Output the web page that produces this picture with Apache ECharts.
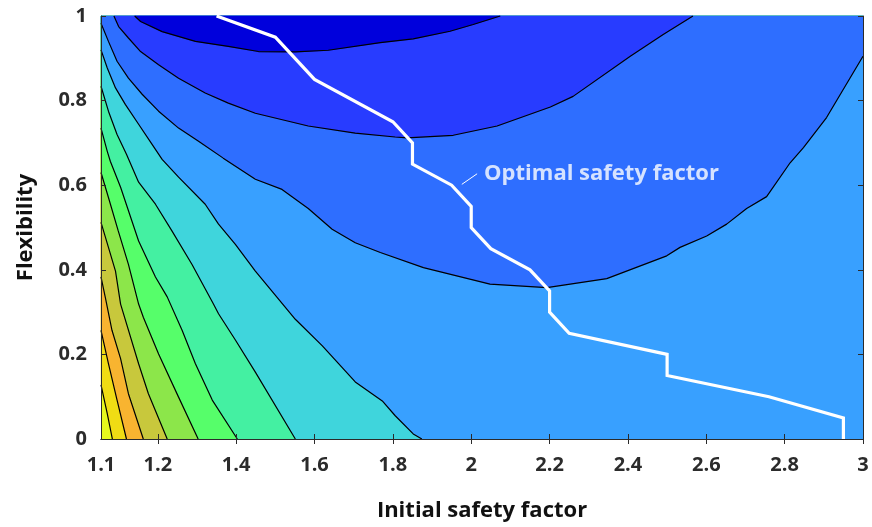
<!DOCTYPE html>
<html>
<head>
<meta charset="utf-8">
<script src="https://cdn.jsdelivr.net/npm/echarts@6/dist/echarts.min.js"></script>
<style>
  html, body { margin: 0; padding: 0; background: #fff; }
  #chart { width: 872px; height: 527px; }
</style>
</head>
<body>
<div id="chart"></div>
<script>
// axis range and ticks
const xMin = 1.055, xMax = 3, yMin = 0, yMax = 1;
const xTickValues = [1.2, 1.4, 1.6, 1.8, 2, 2.2, 2.4, 2.6, 2.8, 3];
const xLabelValues = [1.055, 1.2, 1.4, 1.6, 1.8, 2, 2.2, 2.4, 2.6, 2.8, 3];
const xLabelText = ['1.1', '1.2', '1.4', '1.6', '1.8', '2', '2.2', '2.4', '2.6', '2.8', '3'];

// contour lines, [initial safety factor, flexibility], lowest level first
const contour1 = [[1.141, 1], [1.156, 0.987], [1.211, 0.963], [1.296, 0.940], [1.380, 0.928], [1.457, 0.916], [1.551, 0.915], [1.635, 0.919], [1.768, 0.937], [1.852, 0.946], [1.946, 0.964], [2.005, 0.980], [2.074, 1]];
const contour2 = [[1.088, 1], [1.100, 0.975], [1.125, 0.948], [1.156, 0.916], [1.202, 0.885], [1.253, 0.853], [1.321, 0.818], [1.380, 0.794], [1.449, 0.770], [1.584, 0.740], [1.704, 0.723], [1.806, 0.714], [1.836, 0.712], [1.954, 0.718], [2.066, 0.740], [2.202, 0.785], [2.260, 0.810], [2.406, 0.905], [2.490, 0.956], [2.566, 1]];
const contour3 = [[1.055, 0.983], [1.074, 0.940], [1.096, 0.893], [1.125, 0.853], [1.160, 0.815], [1.202, 0.775], [1.253, 0.735], [1.304, 0.704], [1.367, 0.664], [1.449, 0.614], [1.517, 0.590], [1.584, 0.545], [1.645, 0.496], [1.704, 0.464], [1.768, 0.441], [1.878, 0.405], [2.048, 0.366], [2.193, 0.358], [2.346, 0.379], [2.499, 0.433], [2.533, 0.453], [2.601, 0.480], [2.652, 0.508], [2.703, 0.545], [2.754, 0.573], [2.814, 0.653], [2.848, 0.689], [2.907, 0.760], [3, 0.905]];
const contour4 = [[1.055, 0.920], [1.071, 0.877], [1.092, 0.830], [1.117, 0.791], [1.151, 0.744], [1.185, 0.697], [1.211, 0.661], [1.253, 0.619], [1.321, 0.555], [1.355, 0.508], [1.398, 0.460], [1.449, 0.397], [1.551, 0.283], [1.620, 0.220], [1.704, 0.135], [1.773, 0.090], [1.806, 0.055], [1.852, 0.012], [1.874, 0]];
const contour5 = [[1.055, 0.834], [1.074, 0.775], [1.096, 0.720], [1.120, 0.673], [1.151, 0.607], [1.194, 0.555], [1.236, 0.492], [1.287, 0.413], [1.342, 0.319], [1.355, 0.296], [1.398, 0.234], [1.449, 0.158], [1.551, 0]];
const contour6 = [[1.055, 0.735], [1.071, 0.680], [1.079, 0.656], [1.105, 0.595], [1.151, 0.468], [1.194, 0.383], [1.224, 0.336], [1.262, 0.257], [1.296, 0.178], [1.339, 0.092], [1.403, 0]];
const contour7 = [[1.055, 0.630], [1.074, 0.571], [1.099, 0.492], [1.125, 0.413], [1.151, 0.319], [1.163, 0.288], [1.202, 0.201], [1.253, 0.099], [1.303, 0]];
const contour8 = [[1.055, 0.512], [1.074, 0.453], [1.092, 0.397], [1.105, 0.319], [1.151, 0.178], [1.176, 0.107], [1.224, 0]];
const contour9 = [[1.055, 0.383], [1.066, 0.335], [1.083, 0.257], [1.105, 0.190], [1.125, 0.107], [1.163, 0]];
const contour10 = [[1.055, 0.257], [1.074, 0.178], [1.096, 0.092], [1.120, 0]];
const contour11 = [[1.055, 0.128], [1.071, 0.060], [1.084, 0]];

// band colours: [0] is above the highest contour, [11] inside contour1
const bandColors = ['#e6f81e', '#f0dc14', '#f8b430', '#c8c83c', '#8ce64a', '#56fe6a',
  '#44f0a2', '#3fd5dc', '#38a0ff', '#2e6eff', '#283cff', '#0000dc'];

// optimal safety factor path
const optimalX = [1.35, 1.5, 1.6, 1.8, 1.85, 1.85, 1.95, 2.0, 2.0, 2.05, 2.15, 2.2, 2.2, 2.25, 2.5, 2.5, 2.76, 2.95, 2.95];
const optimalY = [1, 0.95, 0.85, 0.75, 0.7, 0.65, 0.6, 0.55, 0.5, 0.45, 0.4, 0.35, 0.3, 0.25, 0.2, 0.15, 0.1, 0.05, 0];
const leaderLine = [[1.976, 0.602], [2.015, 0.627]];
const annotationText = 'Optimal safety factor';

const contours = [contour11, contour10, contour9, contour8, contour7, contour6,
  contour5, contour4, contour3, contour2, contour1];

const font = '"Open Sans", "DejaVu Sans", sans-serif';
const ink = '#2b2b2b';

// position along the plot border, counter-clockwise from the bottom-left corner
function perimeterPos(p) {
  const eps = 1e-9;
  if (Math.abs(p[1] - yMin) < eps) return (p[0] - xMin) / (xMax - xMin);
  if (Math.abs(p[0] - xMax) < eps) return 1 + (p[1] - yMin) / (yMax - yMin);
  if (Math.abs(p[1] - yMax) < eps) return 2 + (xMax - p[0]) / (xMax - xMin);
  return 3 + (yMax - p[1]) / (yMax - yMin);
}
const corners = [[xMin, yMin], [xMax, yMin], [xMax, yMax], [xMin, yMax]];

// region on the low-value side of a contour, closed along the border
function lowRegion(line) {
  const ts = perimeterPos(line[0]);
  const te = perimeterPos(line[line.length - 1]);
  const target = ts < te ? ts + 4 : ts;
  const pts = line.slice();
  for (let k = Math.floor(te) + 1; k < target; k++) pts.push(corners[k % 4]);
  return pts;
}

const chart = echarts.init(document.getElementById('chart'));

const series = [{
  type: 'custom',
  silent: true,
  data: contours.map((c, i) => [i]),
  renderItem: function (params, api) {
    const pts = lowRegion(contours[params.dataIndex]).map(p => api.coord(p));
    return {
      type: 'polygon',
      shape: { points: pts },
      style: { fill: bandColors[params.dataIndex + 1], stroke: bandColors[params.dataIndex + 1], lineWidth: 0.5 }
    };
  }
}];

contours.forEach(c => {
  series.push({
    type: 'line',
    data: c,
    showSymbol: false,
    silent: true,
    lineStyle: { color: '#000', width: 1.2 }
  });
});

series.push({
  type: 'line',
  data: optimalX.map((x, i) => [x, optimalY[i]]),
  showSymbol: false,
  silent: true,
  lineStyle: { color: '#fff', width: 3.2, join: 'miter' }
});

series.push({
  type: 'line',
  data: leaderLine,
  showSymbol: false,
  silent: true,
  lineStyle: { color: '#fff', width: 1 }
});

series.push({
  type: 'scatter',
  data: [leaderLine[1]],
  symbolSize: 0,
  silent: true,
  label: {
    show: true,
    position: 'right',
    distance: 7,
    formatter: annotationText,
    color: '#fff',
    fontFamily: font,
    fontWeight: 'bold',
    fontSize: 22
  }
});

const tickStyle = { show: true, inside: true, length: 5, lineStyle: { color: ink, width: 1 } };
const lineStyle = { show: true, lineStyle: { color: ink, width: 1 } };
const labelStyle = { color: ink, fontFamily: font, fontWeight: 'bold', fontSize: 20 };
const nameStyle = { color: '#111', fontFamily: font, fontWeight: 'bold', fontSize: 22 };

chart.setOption({
  animation: false,
  grid: { left: 101, right: 9, top: 16, bottom: 87, show: true, backgroundColor: bandColors[0], borderWidth: 0 },
  xAxis: [{
    type: 'value', min: xMin, max: xMax, position: 'bottom', z: 10,
    name: 'Initial safety factor', nameLocation: 'middle', nameGap: 61, nameTextStyle: nameStyle,
    axisLine: lineStyle,
    axisTick: Object.assign({}, tickStyle, { customValues: xTickValues }),
    axisLabel: Object.assign({}, labelStyle, {
      margin: 16,
      customValues: xLabelValues,
      formatter: v => {
        const i = xLabelValues.findIndex(t => Math.abs(t - v) < 1e-6);
        return i >= 0 ? xLabelText[i] : '';
      }
    }),
    splitLine: { show: false }
  }, {
    type: 'value', min: xMin, max: xMax, position: 'top', z: 10,
    axisLine: lineStyle,
    axisTick: Object.assign({}, tickStyle, { customValues: xTickValues }),
    axisLabel: { show: false },
    splitLine: { show: false }
  }],
  yAxis: [{
    type: 'value', min: yMin, max: yMax, interval: 0.2, position: 'left', z: 10,
    name: 'Flexibility', nameLocation: 'middle', nameGap: 64, nameRotate: 90, nameTextStyle: nameStyle,
    axisLine: lineStyle,
    axisTick: tickStyle,
    axisLabel: Object.assign({}, labelStyle, { margin: 14 }),
    splitLine: { show: false }
  }, {
    type: 'value', min: yMin, max: yMax, interval: 0.2, position: 'right', z: 10,
    axisLine: lineStyle,
    axisTick: tickStyle,
    axisLabel: { show: false },
    splitLine: { show: false }
  }],
  series: series
});
</script>
</body>
</html>
